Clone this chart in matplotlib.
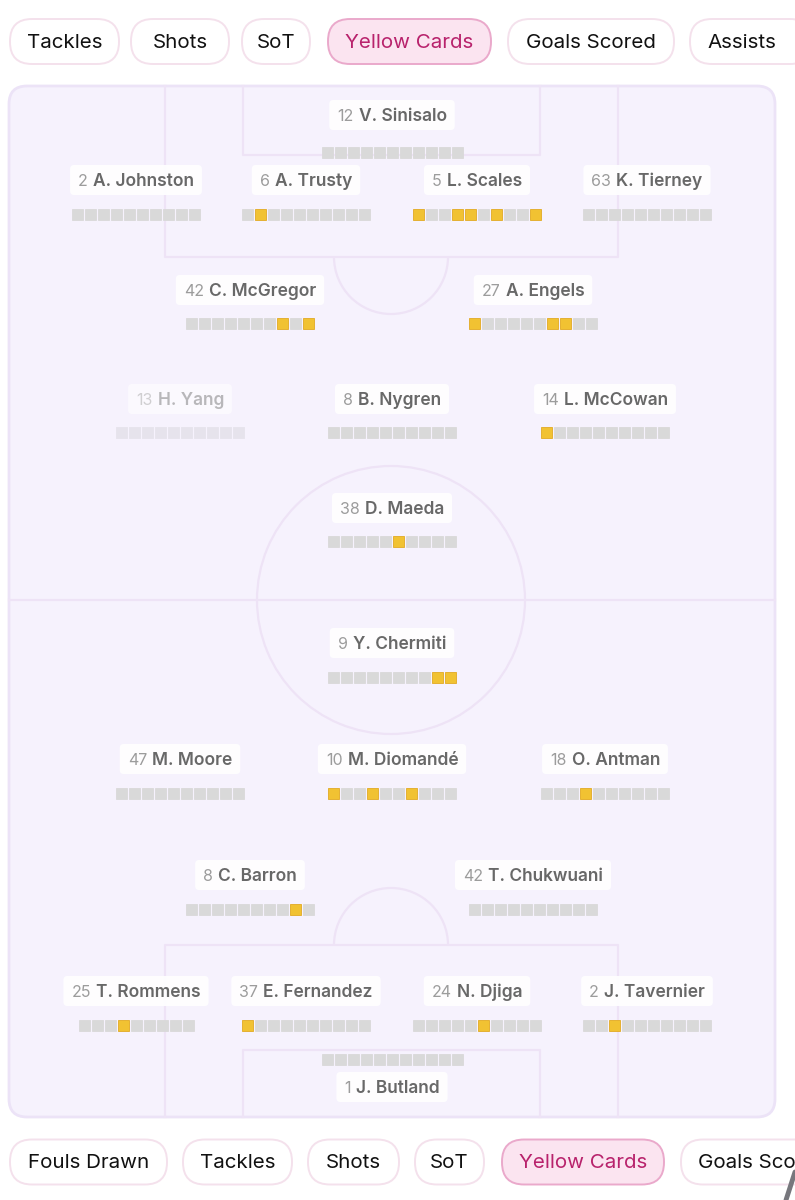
import matplotlib
matplotlib.use("Agg")
import matplotlib.pyplot as plt
from matplotlib.patches import FancyBboxPatch, Rectangle, Arc

plt.rcParams['font.family'] = ['Inter', 'DejaVu Sans']

# players, shirt numbers and yellow-card strips (1 = yellow square)
names = ["V. Sinisalo",
         "A. Johnston", "A. Trusty", "L. Scales", "K. Tierney",
         "C. McGregor", "A. Engels",
         "H. Yang", "B. Nygren", "L. McCowan",
         "D. Maeda",
         "Y. Chermiti",
         "M. Moore", "M. Diomandé", "O. Antman",
         "C. Barron", "T. Chukwuani",
         "T. Rommens", "E. Fernandez", "N. Djiga", "J. Tavernier",
         "J. Butland"]
numbers = ["12",
           "2", "6", "5", "63",
           "42", "27",
           "13", "8", "14",
           "38",
           "9",
           "47", "10", "18",
           "8", "42",
           "25", "37", "24", "2",
           "1"]
cards = ["00000000000",
         "0000000000", "0100000000", "1001101001", "0000000000",
         "0000000101", "1000001100",
         "0000000000", "0000000000", "1000000000",
         "0000010000",
         "0000000011",
         "0000000000", "1001001000", "0001000000",
         "0000000010", "0000000000",
         "000100000", "1000000000", "0000010000", "0010000000",
         "00000000000"]
faded = ["H. Yang"]

top_tabs = ["Tackles", "Shots", "SoT", "Yellow Cards", "Goals Scored", "Assists"]
bottom_tabs = ["Fouls Drawn", "Tackles", "Shots", "SoT", "Yellow Cards", "Goals Scored"]
selected_tab = "Yellow Cards"

# layout (pixels): label centre x, label centre y, strip centre y
slots = [(392, 115, 152),
         (136, 180, 214), (306, 180, 214), (477, 180, 214), (647, 180, 214),
         (250, 290, 323), (533, 290, 323),
         (180, 399, 432), (392, 399, 432), (605, 399, 432),
         (392, 508, 541),
         (392, 643, 677),
         (180, 759, 793), (392, 759, 793), (605, 759, 793),
         (250, 875, 909), (533, 875, 909),
         (136, 991, 1025), (306, 991, 1025), (477, 991, 1025), (647, 991, 1025),
         (392, 1087, 1059)]
top_x = [(10, 119), (131, 229), (242, 310), (328, 491), (508, 674), (690, 812)]
bot_x = [(10, 167), (183, 292), (308, 399), (415, 484), (502, 664), (681, 860)]

line_c = '#eee3f6'
fig = plt.figure(figsize=(7.95, 12), dpi=100)
ax = fig.add_axes([0, 0, 1, 1])
ax.set_xlim(0, 795)
ax.set_ylim(1200, 0)
ax.axis('off')

# pitch
ax.add_patch(FancyBboxPatch((9, 86), 766, 1031, boxstyle="round,pad=0,rounding_size=18",
                            fc='#f6f2fd', ec='#ece3f7', lw=2, zorder=0))
lk = dict(color=line_c, lw=1.6, zorder=1)
ax.plot([165, 165, 618, 618], [86, 257, 257, 86], **lk)
ax.plot([243, 243, 540, 540], [86, 155, 155, 86], **lk)
ax.add_patch(Arc((391, 257), 114, 114, theta1=0, theta2=180, **lk))
ax.plot([9, 775], [600, 600], **lk)
ax.add_patch(Arc((391, 600), 268, 268, **lk))
ax.plot([165, 165, 618, 618], [1117, 945, 945, 1117], **lk)
ax.plot([243, 243, 540, 540], [1117, 1050, 1050, 1117], **lk)
ax.add_patch(Arc((391, 945), 114, 114, theta1=180, theta2=360, **lk))

renderer = fig.canvas.get_renderer()

for name, num, strip, (cx, ly, sy) in zip(names, numbers, cards, slots):
    alpha = 0.45 if name in faded else 1.0
    t1 = ax.text(0, ly + 1.5, num, fontsize=11.5, color='#9c9c9c', va='center', ha='left',
                 alpha=alpha, zorder=4)
    t2 = ax.text(0, ly + 1.5, name, fontsize=12.5, color='#686868', va='center', ha='left',
                 weight=600, alpha=alpha, zorder=4)
    w1 = t1.get_window_extent(renderer).width
    w2 = t2.get_window_extent(renderer).width
    gap = 5
    total = w1 + gap + w2
    x0 = cx - total / 2
    t1.set_x(x0)
    t2.set_x(x0 + w1 + gap)
    ax.add_patch(FancyBboxPatch((x0 - 8, ly - 15), total + 16, 30,
                                boxstyle="round,pad=0,rounding_size=4",
                                fc='white', ec='none', alpha=0.9 if alpha == 1 else 0.6, zorder=3))
    n = len(strip)
    start = cx - (n * 13 - 2) / 2
    for i, c in enumerate(strip):
        if c == '1':
            fc, ec = '#f1c232', '#e2aa22'
        else:
            fc, ec = ('#d9d9d9', '#d9d9d9') if alpha == 1 else ('#e6e3ec', '#e6e3ec')
        ax.add_patch(Rectangle((start + i * 13, sy - 5.5), 11, 11, fc=fc, ec=ec,
                               lw=0.6, zorder=3))


def draw_tabs(labels, xs, yc):
    for lab, (a, b) in zip(labels, xs):
        sel = lab == selected_tab
        ax.add_patch(FancyBboxPatch((a, yc - 22.5), b - a, 45,
                                    boxstyle="round,pad=0,rounding_size=22",
                                    fc='#fbe4f0' if sel else 'white',
                                    ec='#eaa9cb' if sel else '#f4e1ec', lw=1.4, zorder=2))
        if b < 795:
            ax.text((a + b) / 2, yc + 1.5, lab, ha='center', va='center', fontsize=14.8,
                    color='#b8226c' if sel else '#111111', zorder=3)
        else:
            ax.text(a + 17, yc + 1.5, lab, ha='left', va='center', fontsize=14.8,
                    color='#b8226c' if sel else '#111111', zorder=3)


draw_tabs(top_tabs, top_x, 41.5)
draw_tabs(bottom_tabs, bot_x, 1162)

# scroll indicator sliver in the bottom-right corner
ax.plot([786, 795], [1200, 1172], color='#77777d', lw=3.5, solid_capstyle='round', zorder=5)

fig.savefig('out.png', dpi=100)
